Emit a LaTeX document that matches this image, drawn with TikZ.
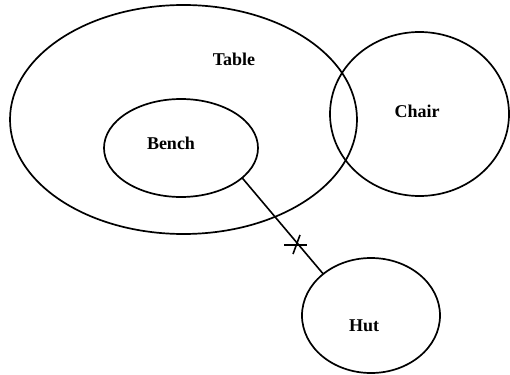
\documentclass[tikz,border=0pt]{standalone}
\usepackage{fontspec}
\setmainfont{Liberation Serif}
\usetikzlibrary{shapes.geometric}
\begin{document}
\begin{tikzpicture}[x=1pt,y=-1pt,
  set/.style={draw=black,line width=1.7pt,ellipse,inner sep=0pt,outer sep=0pt},
  lbl/.style={font=\fontsize{18}{21}\selectfont\bfseries,inner sep=0pt},
  link/.style={draw=black,line width=1.6pt}]
\useasboundingbox (0,0) rectangle (510,374);
\node[set,minimum width=347pt,minimum height=229pt] (table) at (183.5,119.5) {};
\node[set,minimum width=179pt,minimum height=164pt] (chair) at (419.5,114) {};
\node[set,minimum width=154pt,minimum height=98pt] (bench) at (181,148) {};
\node[set,minimum width=138pt,minimum height=115pt] (hut) at (371,315.5) {};
\node[lbl] (tablet) at (234,59) {Table};
\node[lbl] (chairt) at (417,111) {Chair};
\node[lbl] (bencht) at (171,143) {Bench};
\node[lbl] (hutt) at (364,326) {Hut};
\draw[link] (bench.-26) -- (hut.139);
\coordinate (xh1) at (284,245);
\coordinate (xh2) at (307,245);
\coordinate (xv1) at (300,235);
\coordinate (xv2) at (293,254);
\draw[link] (xh1) -- (xh2);
\draw[link] (xv1) -- (xv2);
\end{tikzpicture}
\end{document}
